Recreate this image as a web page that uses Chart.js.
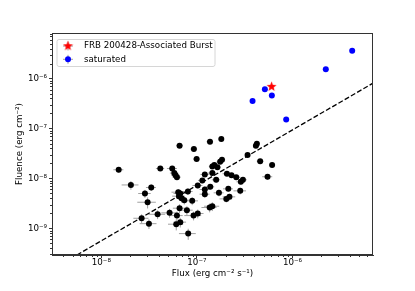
<!DOCTYPE html>
<html>
<head>
<meta charset="utf-8">
<script src="https://cdn.jsdelivr.net/npm/chart.js@4"></script>
<style>
body{margin:0;background:#fff;}
#wrap{width:415px;height:291px;}
</style>
</head>
<body>
<div id="wrap"><canvas id="fluenceChart"></canvas></div>
<script>
// flux (erg cm^-2 s^-1) and fluence (erg cm^-2) of the ordinary bursts
const burstFlux = [1.52e-8, 2.04e-8, 2.86e-8, 3.33e-8, 3.05e-8, 2.64e-8, 3.15e-8, 3.88e-8, 4.14e-8, 5.52e-8,
  5.80e-8, 5.98e-8, 6.18e-8, 6.59e-8, 5.18e-8, 6.18e-8, 6.08e-8, 6.70e-8, 6.59e-8, 6.38e-8,
  6.70e-8, 6.49e-8, 6.92e-8, 7.38e-8, 8.05e-8, 8.93e-8, 7.86e-8, 9.23e-8, 1.02e-7, 8.11e-8,
  9.30e-8, 9.93e-8, 1.02e-7, 1.14e-7, 1.21e-7, 1.21e-7, 1.21e-7, 1.36e-7, 1.45e-7, 1.38e-7,
  1.37e-7, 1.45e-7, 1.52e-7, 1.64e-7, 1.45e-7, 1.59e-7, 1.70e-7, 1.75e-7, 1.83e-7, 1.80e-7,
  2.06e-7, 2.03e-7, 2.19e-7, 2.13e-7, 2.30e-7, 2.58e-7, 2.88e-7, 3.03e-7, 2.84e-7, 3.39e-7,
  4.14e-7, 4.24e-7, 4.59e-7, 5.48e-7, 6.12e-7];
const burstFluence = [1.49e-8, 7.4e-9, 4.98e-9, 6.58e-9, 3.33e-9, 1.59e-9, 1.24e-9, 1.91e-9, 1.58e-8, 1.58e-8,
  1.28e-8, 1.16e-8, 1.06e-8, 4.52e-8, 2.04e-9, 1.80e-9, 1.21e-9, 1.33e-9, 2.53e-9, 5.30e-9,
  4.98e-9, 4.41e-9, 4.02e-9, 3.66e-9, 5.47e-9, 3.55e-9, 2.31e-9, 1.80e-9, 1.98e-9, 7.84e-10,
  3.87e-8, 2.44e-8, 7.21e-9, 9.10e-9, 1.20e-8, 6.0e-9, 4.83e-9, 2.61e-9, 2.77e-9, 6.78e-9,
  5.43e-8, 1.74e-8, 1.85e-8, 1.68e-8, 1.28e-8, 9.38e-9, 5.14e-9, 2.15e-8, 2.36e-8, 6.15e-8,
  1.24e-8, 3.89e-9, 4.27e-9, 6.18e-9, 1.16e-8, 1.06e-8, 8.55e-9, 9.38e-9, 5.63e-9, 2.93e-8,
  4.52e-8, 4.96e-8, 2.22e-8, 1.08e-8, 1.85e-8];
// relative 1-sigma errors
const burstFluxErr = [.12, .2, .15, .12, .22, .18, .2, .2, .1, .12,
  .1, .1, .1, .08, .18, .15, .18, .15, .15, .15,
  .15, .15, .12, .12, .12, .15, .15, .2, .15, .2,
  .08, .08, .12, .1, .1, .12, .12, .18, .18, .1,
  .08, .08, .08, .08, .1, .1, .12, .08, .08, .06,
  .1, .15, .15, .12, .1, .1, .1, .1, .15, .06,
  .06, .06, .08, .12, .06];
const burstFluenceErr = [.12, .2, .18, .15, .25, .2, .22, .2, .1, .1,
  .12, .12, .12, .08, .2, .2, .25, .22, .2, .15,
  .15, .15, .18, .18, .15, .18, .2, .2, .2, .25,
  .08, .1, .12, .12, .1, .15, .15, .2, .2, .12,
  .06, .08, .08, .08, .1, .12, .15, .08, .08, .06,
  .1, .15, .15, .12, .1, .1, .12, .12, .15, .06,
  .06, .06, .08, .12, .06];

const satFlux = [3.82e-7, 5.14e-7, 6.08e-7, 8.59e-7, 2.23e-6, 4.21e-6];
const satFluence = [3.56e-7, 6.1e-7, 4.56e-7, 1.52e-7, 1.54e-6, 3.6e-6];

const frbFlux = [6.04e-7];
const frbFluence = [7.0e-7];

const fitFlux = [3.05e-9, 6.95e-6];
const fitFluence = [1.5e-10, 8.1e-7];

const xTicks = [1e-8, 1e-7, 1e-6];
const xTickLabels = ['10\u207B\u2078', '10\u207B\u2077', '10\u207B\u2076'];
const yTicks = [1e-9, 1e-8, 1e-7, 1e-6];
const yTickLabels = ['10\u207B\u2079', '10\u207B\u2078', '10\u207B\u2077', '10\u207B\u2076'];

const FONT = 'DejaVu Sans';

function toPoints(xs, ys) {
  return xs.map((x, i) => ({x: x, y: ys[i]}));
}

// filled 5-point star marker
const starImg = document.createElement('canvas');
starImg.width = 11; starImg.height = 11;
(function() {
  const c = starImg.getContext('2d');
  c.beginPath();
  for (let k = 0; k < 10; k++) {
    const r = k % 2 === 0 ? 5.2 : 2.2;
    const a = -Math.PI / 2 + k * Math.PI / 5;
    const px = 5.5 + r * Math.cos(a), py = 5.8 + r * Math.sin(a);
    if (k === 0) c.moveTo(px, py); else c.lineTo(px, py);
  }
  c.closePath();
  c.fillStyle = '#ff0000';
  c.fill();
})();

const errorBars = {
  id: 'errorBars',
  beforeDatasetsDraw(chart) {
    const {ctx, scales: {x, y}} = chart;
    ctx.save();
    ctx.strokeStyle = '#a0a0a0';
    ctx.lineWidth = 1;
    chart.data.datasets.forEach(ds => {
      if (!ds.xErr) return;
      ds.data.forEach((p, i) => {
        const px = x.getPixelForValue(p.x), py = y.getPixelForValue(p.y);
        const x0 = x.getPixelForValue(p.x * (1 - ds.xErr[i])), x1 = x.getPixelForValue(p.x * (1 + ds.xErr[i]));
        const y0 = y.getPixelForValue(p.y * (1 - ds.yErr[i])), y1 = y.getPixelForValue(p.y * (1 + ds.yErr[i]));
        ctx.beginPath();
        ctx.moveTo(x0, py); ctx.lineTo(x1, py);
        ctx.moveTo(px, y0); ctx.lineTo(px, y1);
        ctx.stroke();
      });
    });
    ctx.restore();
  }
};

const frameAndMinor = {
  id: 'frameAndMinor',
  afterDraw(chart) {
    const {ctx, chartArea: a, scales: {x, y}} = chart;
    ctx.save();
    ctx.strokeStyle = '#333';
    ctx.lineWidth = 1;
    ctx.strokeRect(a.left + 0.5, a.top + 0.5, a.right - a.left - 1, a.bottom - a.top - 1);
    ctx.beginPath();
    for (let d = -10; d <= -5; d++) {
      for (let k = 2; k <= 9; k++) {
        const v = k * Math.pow(10, d);
        if (v > x.min && v < x.max) {
          const px = Math.round(x.getPixelForValue(v)) + 0.5;
          ctx.moveTo(px, a.bottom); ctx.lineTo(px, a.bottom + 2);
        }
        if (v > y.min && v < y.max) {
          const py = Math.round(y.getPixelForValue(v)) + 0.5;
          ctx.moveTo(a.left, py); ctx.lineTo(a.left - 2, py);
        }
      }
    }
    ctx.stroke();

    // legend box
    const bx = 57, by = 39.5, bw = 158, bh = 27;
    ctx.beginPath();
    ctx.roundRect(bx, by, bw, bh, 2);
    ctx.fillStyle = 'rgba(255,255,255,0.8)';
    ctx.fill();
    ctx.strokeStyle = '#d6d6d6';
    ctx.stroke();
    const rows = [{y: 46, ds: chart.data.datasets[0]}, {y: 59.3, ds: chart.data.datasets[1]}];
    rows.forEach((r, i) => {
      ctx.strokeStyle = '#a0a0a0';
      ctx.beginPath();
      ctx.moveTo(63, r.y); ctx.lineTo(73, r.y);
      ctx.moveTo(68, r.y - 4.5); ctx.lineTo(68, r.y + 4.5);
      ctx.stroke();
      if (i === 0) {
        ctx.drawImage(starImg, 68 - 5.5, r.y - 5.8);
      } else {
        ctx.beginPath();
        ctx.arc(68, r.y, 3, 0, Math.PI * 2);
        ctx.fillStyle = '#0000ff';
        ctx.fill();
      }
      ctx.fillStyle = '#000';
      ctx.font = '8.7px "' + FONT + '"';
      ctx.textBaseline = 'middle';
      ctx.fillText(r.ds.label, 84, r.y);
    });
    ctx.restore();
  }
};

const ctx = document.getElementById('fluenceChart').getContext('2d');
const fluenceChart = new Chart(ctx, {
  type: 'scatter',
  data: {
    datasets: [{
      label: 'FRB 200428-Associated Burst',
      data: toPoints(frbFlux, frbFluence),
      pointStyle: starImg
    }, {
      label: 'saturated',
      data: toPoints(satFlux, satFluence),
      backgroundColor: '#0000ff',
      borderColor: '#0000ff',
      pointRadius: 3,
      borderWidth: 0
    }, {
      label: 'bursts',
      data: toPoints(burstFlux, burstFluence),
      xErr: burstFluxErr,
      yErr: burstFluenceErr,
      backgroundColor: '#000',
      borderColor: '#000',
      pointRadius: 3,
      borderWidth: 0
    }, {
      label: 'fit',
      data: toPoints(fitFlux, fitFluence),
      showLine: true,
      borderColor: '#000',
      borderWidth: 1.3,
      borderDash: [5, 2.2],
      pointRadius: 0
    }]
  },
  options: {
    responsive: true,
    maintainAspectRatio: false,
    animation: false,
    layout: {padding: {top: 33, right: 42, left: 0, bottom: 0}},
    plugins: {
      legend: {display: false},
      tooltip: {enabled: false}
    },
    scales: {
      x: {
        type: 'logarithmic',
        min: 3.05e-9,
        max: 6.95e-6,
        afterBuildTicks: s => { s.ticks = xTicks.map(v => ({value: v})); },
        afterFit: s => { s.height = 36; },
        ticks: {
          callback: (v, i) => xTickLabels[i],
          font: {family: FONT, size: 8.7},
          color: '#000',
          padding: 0,
          maxRotation: 0,
          autoSkip: false
        },
        grid: {drawOnChartArea: false, tickLength: 3, color: '#333'},
        border: {color: '#333'},
        title: {display: true, text: 'Flux (erg cm\u207B\u00B2 s\u207B\u00B9)', font: {family: FONT, size: 8.7}, color: '#000', padding: {top: 0, bottom: 12}}
      },
      y: {
        type: 'logarithmic',
        min: 2.92e-10,
        max: 8.2e-6,
        afterBuildTicks: s => { s.ticks = yTicks.map(v => ({value: v})); },
        afterFit: s => { s.width = 52; },
        ticks: {
          callback: (v, i) => yTickLabels[i],
          font: {family: FONT, size: 8.7},
          color: '#000',
          padding: 2,
          autoSkip: false
        },
        grid: {drawOnChartArea: false, tickLength: 3, color: '#333'},
        border: {color: '#333'},
        title: {display: true, text: 'Fluence (erg cm\u207B\u00B2)', font: {family: FONT, size: 8.7}, color: '#000', padding: {top: 15, bottom: 0}}
      }
    }
  },
  plugins: [errorBars, frameAndMinor]
});
</script>
</body>
</html>
